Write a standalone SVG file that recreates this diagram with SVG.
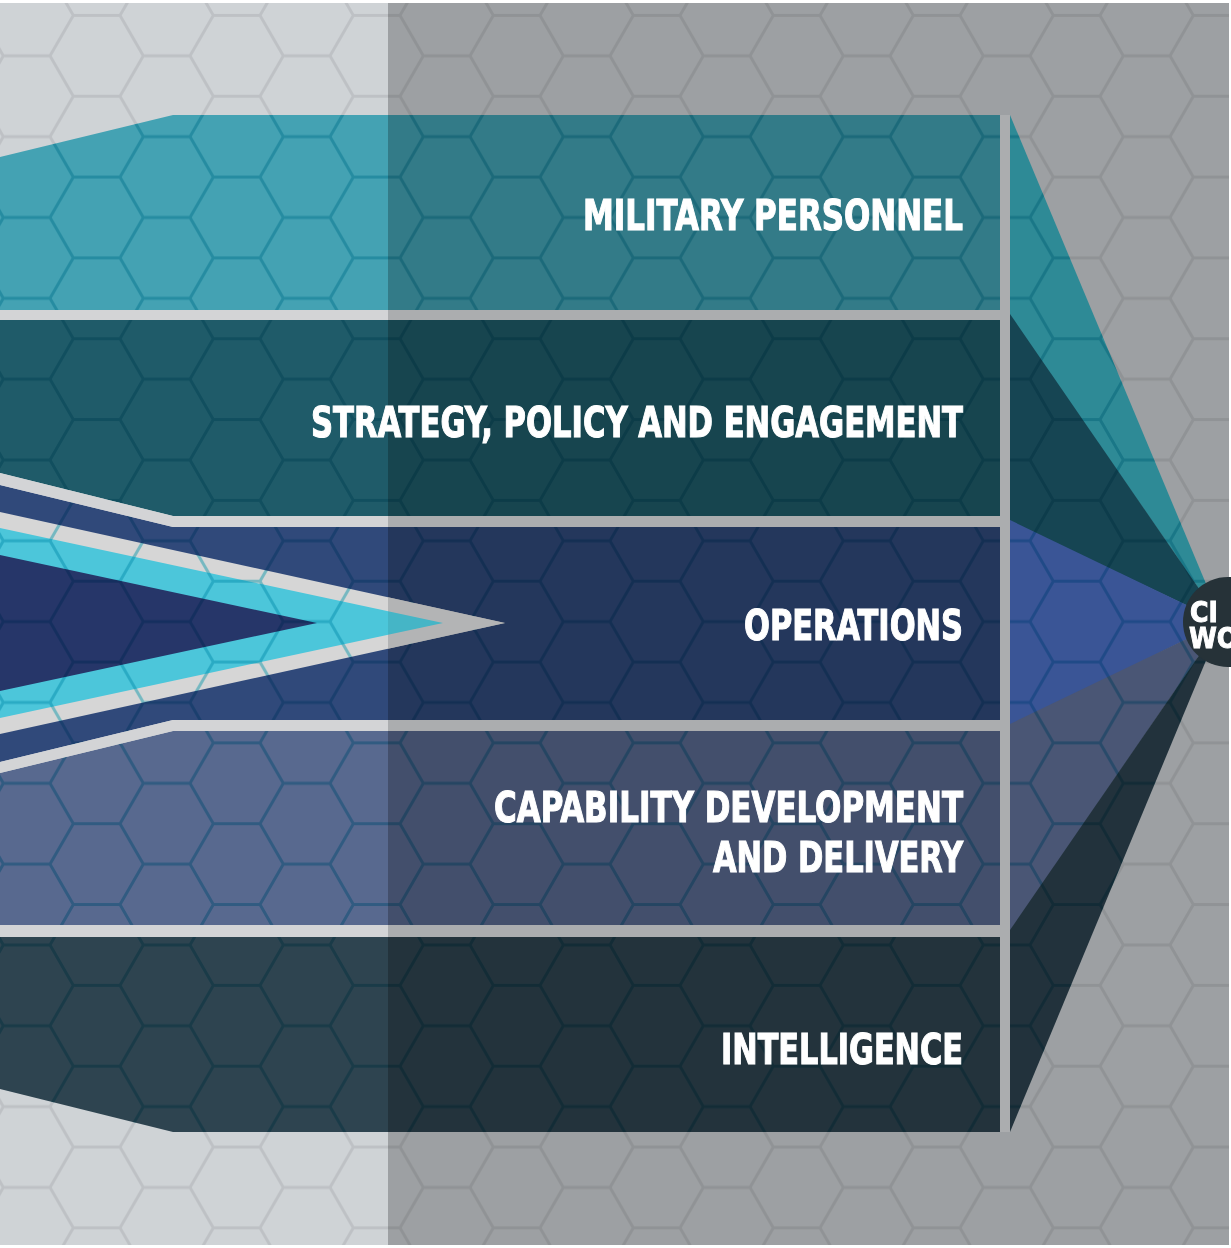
<svg xmlns="http://www.w3.org/2000/svg" width="1231" height="1248" viewBox="0 0 1231 1248">
  <defs>
    <style>
      .lbl { font-family: "Liberation Sans Narrow", "DejaVu Sans Condensed", "Liberation Sans", sans-serif; font-weight: bold; font-size: 43px; fill: #ffffff; stroke: #ffffff; stroke-width: 1.1; text-anchor: end; }
      .ctx { font-family: "Liberation Sans Narrow", "DejaVu Sans Condensed", "Liberation Sans", sans-serif; font-weight: bold; font-size: 28px; fill: #ffffff; stroke: #ffffff; stroke-width: 0.9; }
      .gapL { fill: #d3d4d6; }
      .gapR { fill: #abadaf; }
      .hexLine { fill: none; stroke-width: 3; }
      .mult { mix-blend-mode: multiply; }
    </style>
    <pattern id="hexBg" patternUnits="userSpaceOnUse" x="-20" y="-25" width="140" height="80.83">
      <path class="hexLine" stroke="#6a6c70" stroke-opacity="0.17" d="M0,40.415 L23.333,0 L70,0 L93.333,40.415 L70,80.83 L23.333,80.83 Z M93.333,40.415 L140,40.415 M140,40.415 L163.333,0 M140,40.415 L163.333,80.83 M-46.667,40.415 L0,40.415"/>
    </pattern>
    <pattern id="hexBand" patternUnits="userSpaceOnUse" x="-20" y="-25" width="140" height="80.83">
      <path class="hexLine" stroke="#8cdce6" d="M0,40.415 L23.333,0 L70,0 L93.333,40.415 L70,80.83 L23.333,80.83 Z M93.333,40.415 L140,40.415 M140,40.415 L163.333,0 M140,40.415 L163.333,80.83 M-46.667,40.415 L0,40.415"/>
    </pattern>
    <clipPath id="clipLeft"><rect x="0" y="0" width="388" height="1248"/></clipPath>
    <clipPath id="clipRight"><rect x="388" y="0" width="843" height="1248"/></clipPath>
    <clipPath id="clipBands">
      <path d="M0,157 L173,115 L1000,115 L1000,310 L0,310 Z"/>
      <path d="M0,320 L1000,320 L1000,516 L173,516 L0,473 Z"/>
      <path d="M0,485 L173,527 L1000,527 L1000,720 L173,720 L0,762 Z"/>
      <path d="M0,773 L173,731 L1000,731 L1000,925 L0,925 Z"/>
      <path d="M0,937 L1000,937 L1000,1132 L173,1132 L0,1089 Z"/>
    </clipPath>
    <clipPath id="clipFans">
      <path d="M1010,115 L1010,1132 L1222,622 Z"/>
    </clipPath>
  </defs>

  <rect x="0" y="0" width="1231" height="1248" fill="#ffffff"/>
  <g id="background">
    <rect x="0" y="3" width="1229" height="1242" fill="#cfd3d6"/>
    <rect x="0" y="3" width="1229" height="1242" fill="url(#hexBg)"/>
  </g>

  <g id="bands">
    <path id="band-military-personnel" d="M0,157 L173,115 L1000,115 L1000,310 L0,310 Z" fill="#44a2b3"/>
    <path id="band-strategy" d="M0,320 L1000,320 L1000,516 L173,516 L0,473 Z" fill="#1f5b69"/>
    <path id="band-operations" d="M0,485 L173,527 L1000,527 L1000,720 L173,720 L0,762 Z" fill="#30497a"/>
    <path id="band-capability" d="M0,773 L173,731 L1000,731 L1000,925 L0,925 Z" fill="#58698f"/>
    <path id="band-intelligence" d="M0,937 L1000,937 L1000,1132 L173,1132 L0,1089 Z" fill="#2e4450"/>
  </g>

  <g id="chevron">
    <path d="M0,512 L505,623 L0,734 Z" fill="#d6d6d6"/>
    <path d="M0,528 L443,623 L0,718 Z" fill="#4cc6da"/>
    <path d="M0,555 L317,623 L0,691 Z" fill="#263669"/>
  </g>

  <rect class="mult" x="0" y="0" width="1231" height="1248" fill="url(#hexBand)" clip-path="url(#clipBands)"/>

  <rect id="shade" x="388" y="3" width="841" height="1242" fill="#000000" fill-opacity="0.24"/>

  <g id="chevron-right" clip-path="url(#clipRight)">
    <path d="M0,512 L505,623 L0,734 Z" fill="#b3b4b5"/>
    <path d="M0,528 L443,623 L0,718 Z" fill="#45b5c6"/>
  </g>

  <g id="gaps-left" class="gapL" clip-path="url(#clipLeft)">
    <rect x="0" y="310" width="1000" height="10"/>
    <path d="M0,473 L173,516 L1000,516 L1000,527 L173,527 L0,485 Z"/>
    <path d="M0,762 L173,720 L1000,720 L1000,731 L173,731 L0,773 Z"/>
    <rect x="0" y="925" width="1000" height="12"/>
  </g>
  <g id="gaps-right" class="gapR" clip-path="url(#clipRight)">
    <rect x="0" y="310" width="1000" height="10"/>
    <path d="M0,473 L173,516 L1000,516 L1000,527 L173,527 L0,485 Z"/>
    <path d="M0,762 L173,720 L1000,720 L1000,731 L173,731 L0,773 Z"/>
    <rect x="0" y="925" width="1000" height="12"/>
    <rect x="1000" y="115" width="10" height="1017"/>
  </g>

  <g id="connectors">
    <path id="fan-military-personnel" d="M1010,115 L1010,316 L1222,622 Z" fill="#2e8a96"/>
    <path id="fan-strategy" d="M1010,314 L1010,522 L1222,622 Z" fill="#164553"/>
    <path id="fan-operations" d="M1010,520 L1010,726 L1222,622 Z" fill="#3a5596"/>
    <path id="fan-capability" d="M1010,724 L1010,932 L1222,622 Z" fill="#4a5675"/>
    <path id="fan-intelligence" d="M1010,930 L1010,1132 L1222,622 Z" fill="#22323c"/>
    <rect class="mult" x="0" y="0" width="1231" height="1248" fill="url(#hexBand)" clip-path="url(#clipFans)"/>
  </g>

  <rect x="1229" y="0" width="2" height="1248" fill="#ffffff"/>

  <g id="node-center">
    <circle cx="1228" cy="622" r="45" fill="#263238"/>
    <text class="ctx" x="1190" y="622">CI</text>
    <text class="ctx" x="1189" y="648">WO</text>
  </g>

  <g id="node-military-personnel">
    <text class="lbl" x="963" y="230" textLength="380" lengthAdjust="spacingAndGlyphs">MILITARY PERSONNEL</text>
  </g>
  <g id="node-strategy">
    <text class="lbl" x="963" y="437" textLength="652" lengthAdjust="spacingAndGlyphs">STRATEGY, POLICY AND ENGAGEMENT</text>
  </g>
  <g id="node-operations">
    <text class="lbl" x="963" y="640" textLength="219" lengthAdjust="spacingAndGlyphs">OPERATIONS</text>
  </g>
  <g id="node-capability">
    <text class="lbl" x="963" y="822" textLength="469" lengthAdjust="spacingAndGlyphs">CAPABILITY DEVELOPMENT</text>
    <text class="lbl" x="963" y="872" textLength="250" lengthAdjust="spacingAndGlyphs">AND DELIVERY</text>
  </g>
  <g id="node-intelligence">
    <text class="lbl" x="963" y="1064" textLength="242" lengthAdjust="spacingAndGlyphs">INTELLIGENCE</text>
  </g>
</svg>
